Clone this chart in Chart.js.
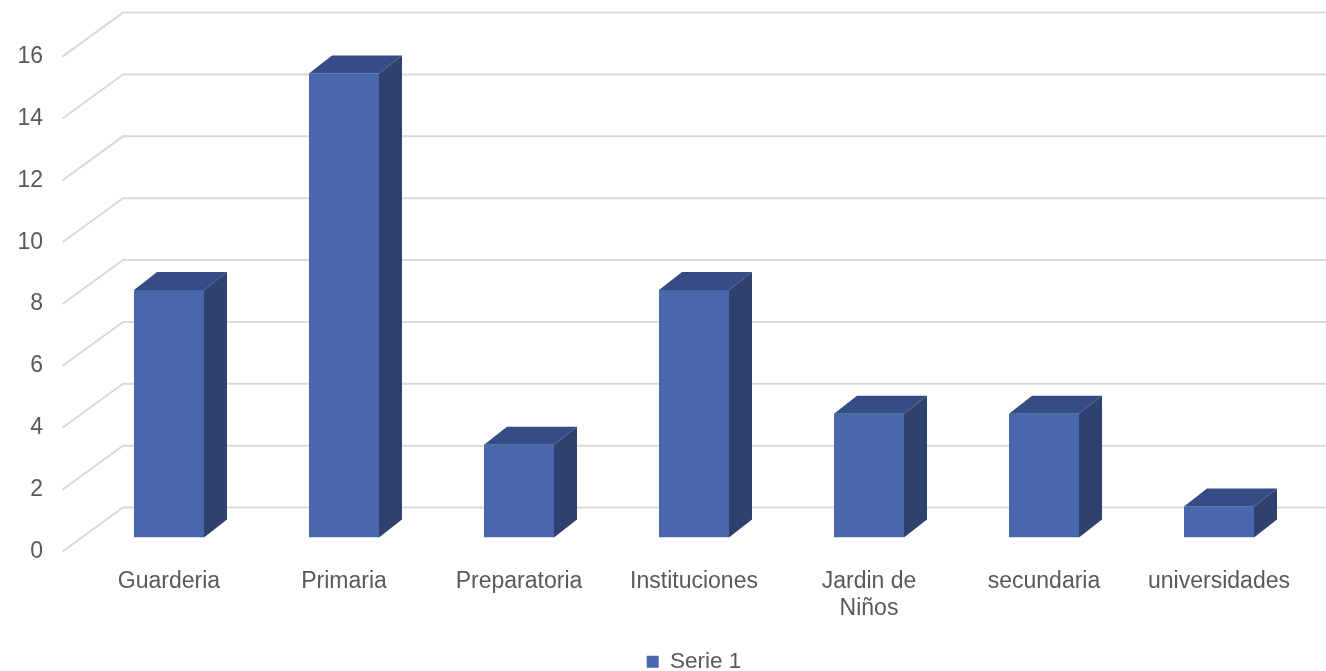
<!DOCTYPE html>
<html>
<head>
<meta charset="utf-8">
<script src="https://cdn.jsdelivr.net/npm/chart.js@4.4.1/dist/chart.umd.min.js"></script>
<style>
  html, body { margin: 0; padding: 0; background: #ffffff; }
  #wrap { width: 1326px; height: 671px; position: relative; }
</style>
</head>
<body>
<div id="wrap"><canvas id="chart"></canvas></div>
<script>
// Categories and values
const categories = ['Guarderia', 'Primaria', 'Preparatoria', 'Instituciones', ['Jardin de', 'Niños'], 'secundaria', 'universidades'];
const serie1 = [8, 15, 3, 8, 4, 4, 1];
const seriesName = 'Serie 1';
const yTicks = [0, 2, 4, 6, 8, 10, 12, 14, 16];

// Colours
const FRONT = '#4967ad';
const TOP = '#354c84';
const SIDE = '#2f426f';
const GRID = '#d9d9d9';
const TEXT = '#595959';

// Depth of the box faces and of the walls (pixels)
const BAR_DX = 23, BAR_DY = 18;
const WALL_FRONT_DX = -19, WALL_BACK_DX = 41.5;
const WALL_FRONT_DY = 14, WALL_BACK_DY = -30;

const depthPlugin = {
  id: 'depth3d',
  beforeDatasetsDraw(chart) {
    const { ctx, chartArea, scales } = chart;
    const y = scales.y;
    const x0 = chartArea.left + WALL_FRONT_DX;
    const x1 = chartArea.left + WALL_BACK_DX;
    ctx.save();
    ctx.strokeStyle = GRID;
    ctx.lineWidth = 2;
    yTicks.forEach(v => {
      const p = y.getPixelForValue(v);
      ctx.beginPath();
      ctx.moveTo(x0, p + WALL_FRONT_DY);
      ctx.lineTo(x1, p + WALL_BACK_DY);
      ctx.lineTo(chart.width, p + WALL_BACK_DY);
      ctx.stroke();
    });
    ctx.restore();
  },
  afterDatasetsDraw(chart) {
    const { ctx } = chart;
    const meta = chart.getDatasetMeta(0);
    ctx.save();
    meta.data.forEach(bar => {
      const { x, y, base, width } = bar.getProps(['x', 'y', 'base', 'width'], true);
      const l = x - width / 2, r = x + width / 2;
      // top face
      ctx.fillStyle = TOP;
      ctx.beginPath();
      ctx.moveTo(l, y);
      ctx.lineTo(l + BAR_DX, y - BAR_DY);
      ctx.lineTo(r + BAR_DX, y - BAR_DY);
      ctx.lineTo(r, y);
      ctx.closePath();
      ctx.fill();
      // side face
      ctx.fillStyle = SIDE;
      ctx.beginPath();
      ctx.moveTo(r, y);
      ctx.lineTo(r + BAR_DX, y - BAR_DY);
      ctx.lineTo(r + BAR_DX, base - BAR_DY);
      ctx.lineTo(r, base);
      ctx.closePath();
      ctx.fill();
    });
    ctx.restore();
  }
};

new Chart(document.getElementById('chart'), {
  type: 'bar',
  data: {
    labels: categories,
    datasets: [{
      label: seriesName,
      data: serie1,
      backgroundColor: FRONT,
      borderWidth: 0,
      barPercentage: 0.5,
      categoryPercentage: 0.8
    }]
  },
  options: {
    responsive: true,
    maintainAspectRatio: false,
    animation: false,
    layout: { padding: { top: 42.6, right: 19.5, left: 0, bottom: -12 } },
    scales: {
      x: {
        grid: { display: false, drawTicks: false },
        border: { display: false },
        ticks: { color: TEXT, font: { family: 'Liberation Sans, Arial, sans-serif', size: 23 }, padding: 30, maxRotation: 0, autoSkip: false },
        afterFit(scale) { scale.height = 103; scale.paddingLeft = 0; scale.paddingRight = 0; }
      },
      y: {
        min: 0, max: 16,
        grid: { display: false, drawTicks: false },
        border: { display: false },
        ticks: { stepSize: 2, color: TEXT, font: { family: 'Liberation Sans, Arial, sans-serif', size: 23 }, padding: 38.5, labelOffset: 14 },
        afterFit(scale) { scale.width = 81.5; scale.paddingTop = 0; scale.paddingBottom = 0; }
      }
    },
    plugins: {
      tooltip: { enabled: false },
      legend: {
        position: 'bottom',
        fullSize: false,
        labels: { color: TEXT, boxWidth: 12, boxHeight: 12, padding: 10, font: { family: 'Liberation Sans, Arial, sans-serif', size: 22.5 } }
      }
    }
  },
  plugins: [depthPlugin]
});
</script>
</body>
</html>
